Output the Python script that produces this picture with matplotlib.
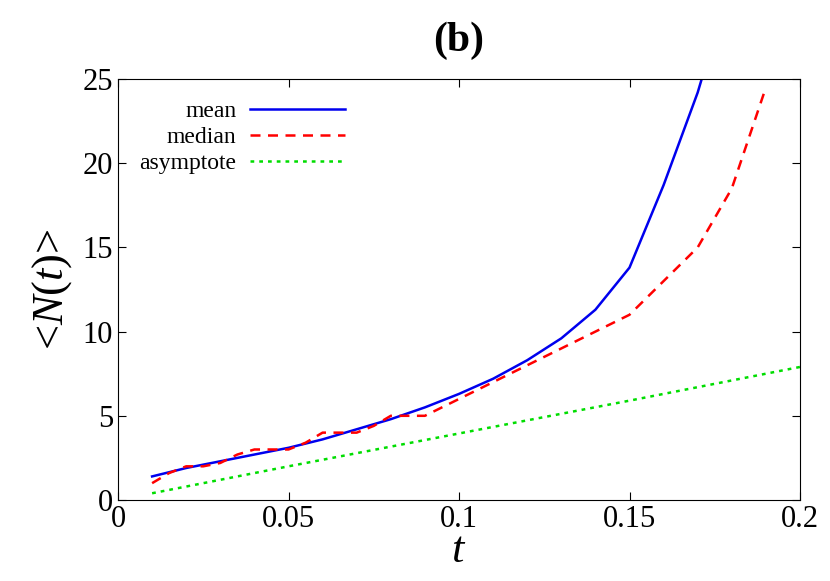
import matplotlib
matplotlib.use("Agg")
import matplotlib.pyplot as plt

plt.rcParams["font.family"] = "Liberation Serif"
plt.rcParams["mathtext.fontset"] = "custom"
plt.rcParams["mathtext.rm"] = "Liberation Serif"
plt.rcParams["mathtext.it"] = "Liberation Serif:italic"

t_mean = [0.01, 0.02, 0.03, 0.04, 0.05, 0.06, 0.07, 0.08, 0.09, 0.10,
          0.11, 0.12, 0.13, 0.14, 0.15, 0.16, 0.17, 0.18]
mean = [1.4, 1.9, 2.3, 2.7, 3.1, 3.6, 4.2, 4.8, 5.5, 6.3,
        7.2, 8.3, 9.6, 11.3, 13.8, 18.7, 24.2, 31.0]

t_median = [0.01, 0.015, 0.02, 0.025, 0.03, 0.035, 0.04, 0.05, 0.055, 0.06,
            0.065, 0.07, 0.075, 0.08, 0.085, 0.09, 0.1, 0.11, 0.12, 0.13,
            0.14, 0.15, 0.16, 0.17, 0.18, 0.19]
median = [1.0, 1.6, 2.0, 2.0, 2.2, 2.7, 3.0, 3.0, 3.4, 4.0,
          4.0, 4.0, 4.4, 5.0, 5.0, 5.0, 6.0, 7.0, 8.0, 9.0,
          10.0, 11.0, 13.0, 15.0, 18.5, 24.5]

t_asym = [0.01, 0.05, 0.1, 0.15, 0.2]
asym = [0.4, 2.0, 3.95, 5.9, 7.9]

fig = plt.figure(figsize=(8.3, 5.81), dpi=100)
ax = fig.add_axes([118 / 830, 81 / 581, 682 / 830, 421 / 581])

ax.plot(t_mean, mean, color="#0000ee", lw=1.8, label="mean")
ax.plot(t_median, median, color="#ff0000", lw=1.8, ls=(0, (4, 3)), label="median")
ax.plot(t_asym, asym, color="#00dd00", lw=1.8, ls=(0, (1.5, 2)), label="asymptote")

ax.set_xlim(0, 0.2)
ax.set_ylim(0, 25)
ax.set_xticks([0, 0.05, 0.1, 0.15, 0.2])
ax.set_xticklabels(["0", "0.05", "0.1", "0.15", "0.2"])
ax.set_yticks([0, 5, 10, 15, 20, 25])
ax.tick_params(labelsize=22, direction="in", length=6, top=True, right=True)
ax.set_xlabel("$t$", fontsize=32, labelpad=-2)
ax.set_ylabel(r"<$N$($t$)>", fontsize=32, labelpad=6)
ax.set_title("(b)", fontsize=30, fontweight="bold", pad=20)

ax.legend(loc="upper left", frameon=False, markerfirst=False, fontsize=17,
          handlelength=4, handletextpad=0.6, labelspacing=0.2,
          bbox_to_anchor=(0.0, 1.0))

fig.savefig("out.png", dpi=100)
